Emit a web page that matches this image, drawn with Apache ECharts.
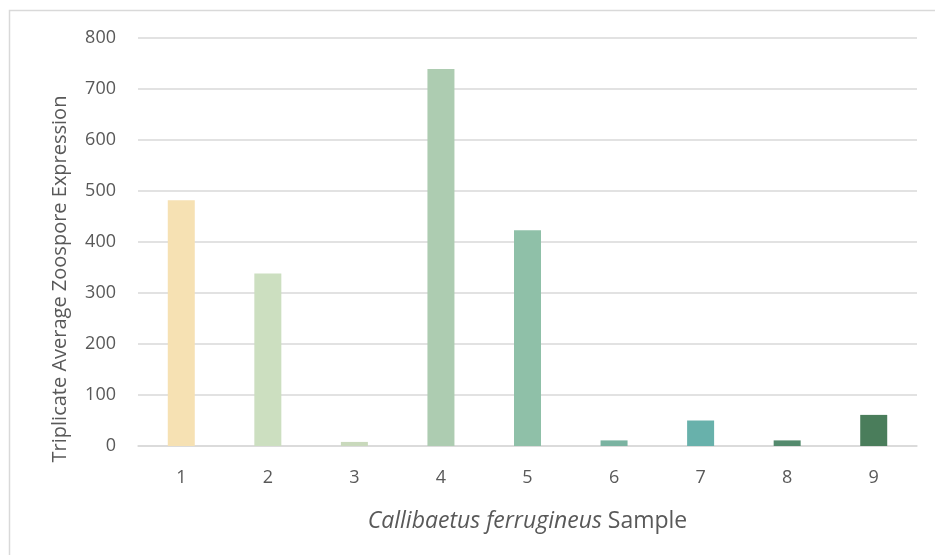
<!DOCTYPE html>
<html>
<head>
<meta charset="utf-8">
<script src="https://cdn.jsdelivr.net/npm/echarts@6/dist/echarts.min.js"></script>
<style>
html,body{margin:0;padding:0;background:#fff;}
#chart{width:935px;height:555px;}
</style>
</head>
<body>
<div id="chart"></div>
<script>
const categories = ['1','2','3','4','5','6','7','8','9'];
const values = [482, 338, 8, 739, 423, 11, 50, 11, 61];
const barColors = ['#F6E1B3','#CCDFC0','#C9D9BC','#ADCCB1','#8FC0A8','#7AB3A1','#68B1AB','#548A6D','#4A7D5B'];
const yTicks = [0, 100, 200, 300, 400, 500, 600, 700, 800];
const yTitle = 'Triplicate Average Zoospore Expression';

const chart = echarts.init(document.getElementById('chart'), null, {renderer:'canvas'});
const font = '"Open Sans", Lato, sans-serif';
chart.setOption({
  animation: false,
  backgroundColor: '#fff',
  graphic: [{
    type: 'polyline',
    shape: { points: [[9.5, 555], [9.5, 10.5], [935, 10.5]] },
    style: { stroke: '#D9D9D9', lineWidth: 1.5, fill: null },
    silent: true
  }, {
    type: 'text',
    x: 60, y: 279,
    rotation: Math.PI / 2,
    style: { text: yTitle, fill: '#595959', font: '20px ' + font, align: 'center', verticalAlign: 'middle' },
    silent: true
  }],
  grid: { left: 138, right: 18, top: 38, bottom: 109, containLabel: false },
  xAxis: {
    type: 'category',
    data: categories,
    axisLine: { show: true, lineStyle: { color: '#D9D9D9', width: 1.5 } },
    axisTick: { show: false },
    axisLabel: { color: '#595959', fontSize: 18, fontFamily: font, margin: 23 },
    name: '{i|Callibaetus ferrugineus} Sample',
    nameLocation: 'middle',
    nameGap: 64,
    nameTextStyle: {
      color: '#595959', fontSize: 23, fontFamily: font,
      rich: { i: { fontStyle: 'italic', color: '#595959', fontSize: 23, fontFamily: font } }
    }
  },
  yAxis: {
    type: 'value',
    min: yTicks[0],
    max: yTicks[yTicks.length - 1],
    interval: 100,
    axisLine: { show: false },
    axisTick: { show: false },
    splitLine: { lineStyle: { color: '#D9D9D9', width: 1.5 } },
    axisLabel: { color: '#595959', fontSize: 18, fontFamily: font, margin: 22 }
  },
  series: [{
    type: 'bar',
    data: values.map((v, i) => ({ value: v, itemStyle: { color: barColors[i] } })),
    barWidth: 27
  }]
});
</script>
</body>
</html>
